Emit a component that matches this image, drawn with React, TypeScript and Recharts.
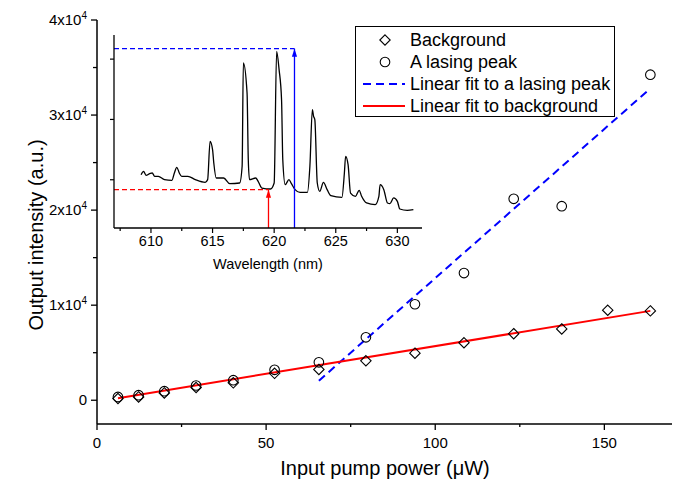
import React from "react";
import { ComposedChart, LineChart, Line, Scatter, XAxis, YAxis, Legend } from "recharts";

// main plot: pump power (uW) vs output intensity (a.u.)
const power = [6.2, 12.3, 19.9, 29.3, 40.3, 52.5, 65.6, 79.5, 94, 108.5, 123.2, 137.4, 151, 163.6];
const background = [180, 350, 770, 1340, 1830, 2830, 3240, 4150, 4950, 6050, 7000, 7500, 9470, 9400];
const lasingPeak = [350, 530, 950, 1550, 2110, 3200, 3990, 6620, 10100, 13380, 21190, 20410, null, 34250];

const bgFitX = [6.2, 163.6];
const bgFitY = [220, 9400];
const peakFitX = [65.6, 163.6];
const peakFitY = [2050, 32800];

const xTicks = [0, 25, 50, 75, 100, 125, 150];
const xLabeled = [0, 50, 100, 150];
const yTicks = [0, 5000, 10000, 15000, 20000, 25000, 30000, 35000, 40000];

const legendNames = ["Background", "A lasing peak", "Linear fit to a lasing peak", "Linear fit to background"];

// inset: emission spectrum
const wavelength = [
  609.2, 609.4, 609.6, 609.9, 610.1, 610.3, 610.6, 611.1, 611.7, 611.9, 612.1, 612.3, 612.5, 613.0, 613.6,
  614.4, 614.6, 614.8, 615.0, 615.1, 615.3, 615.9, 616.4, 617.2, 617.4, 617.5, 617.8, 617.9, 618.0, 618.5,
  618.7, 619.0, 619.7, 620.0, 620.2, 620.4, 620.6, 620.7, 620.9, 621.2, 621.4, 621.7, 622.1, 622.7, 622.9,
  623.1, 623.2, 623.3, 623.5, 623.7, 624.0, 624.3, 624.6, 625.5, 625.7, 625.8, 626.0, 626.2, 626.6, 626.9,
  627.1, 627.5, 628.2, 628.5, 628.6, 628.9, 629.2, 629.4, 629.7, 630.0, 630.2, 630.8, 631.3,
];
const counts = [
  884, 940, 873, 901, 912, 857, 857, 802, 790, 912, 1006, 912, 857, 857, 802,
  757, 802, 1437, 1299, 1078, 829, 829, 735, 746, 1023, 2736, 2239, 1133, 802, 829,
  774, 663, 647, 746, 2930, 2626, 2128, 1133, 719, 802, 735, 636, 591, 591, 1023,
  1962, 1852, 1797, 746, 608, 757, 636, 536, 509, 912, 1188, 1050, 580, 525, 625,
  525, 415, 387, 525, 719, 636, 415, 404, 498, 442, 315, 293, 304,
];
const insetXTicks = [607.5, 610, 612.5, 615, 617.5, 620, 622.5, 625, 627.5, 630];
const insetXLabeled = [610, 615, 620, 625, 630];
const insetYTicks = [800, 1800, 2800];
const bgMarkX = 619.54;
const bgMarkY = 636;
const peakMarkX = 621.65;
const peakMarkY = 2974;

const FONT = "'Liberation Sans', Arial, sans-serif";
const BLUE = "#0000ff";
const RED = "#ff0000";

const pts = (xs: number[], ys: (number | null)[]) =>
  xs.map((x, i) => ({ x, y: ys[i] })).filter((d) => d.y !== null);

const bgData = pts(power, background);
const peakData = pts(power, lasingPeak);
const bgFit = pts(bgFitX, bgFitY);
const peakFit = pts(peakFitX, peakFitY);
const spectrum = pts(wavelength, counts);

const Diamond = (p: any) => (
  <path
    d={`M${p.cx},${p.cy - 5.2}L${p.cx + 5.2},${p.cy}L${p.cx},${p.cy + 5.2}L${p.cx - 5.2},${p.cy}Z`}
    fill="none"
    stroke="#000"
    strokeWidth={1.1}
  />
);
const Ring = (p: any) => <circle cx={p.cx} cy={p.cy} r={4.8} fill="none" stroke="#000" strokeWidth={1.1} />;

const BottomTick = ({ x, y, payload }: any) => {
  const major = xLabeled.includes(payload.value);
  return (
    <g>
      <line x1={x} x2={x} y1={y} y2={y + (major ? 6 : 3)} stroke="#000" strokeWidth={1.3} />
      {major && (
        <text x={x} y={y + 24} textAnchor="middle" fontSize={15} fontFamily={FONT} fill="#000">
          {payload.value}
        </text>
      )}
    </g>
  );
};
const TopTick = ({ x, y, payload }: any) => {
  const major = xLabeled.includes(payload.value);
  return <line x1={x} x2={x} y1={y} y2={y + (major ? 5 : 3)} stroke="#000" strokeWidth={1.3} />;
};
const LeftTick = ({ x, y, payload }: any) => {
  const v = payload.value;
  const major = v % 10000 === 0;
  return (
    <g>
      <line x1={x} x2={x - (major ? 6 : 4)} y1={y} y2={y} stroke="#000" strokeWidth={1.3} />
      {major && (
        <text x={x - 10} y={y + 5} textAnchor="end" fontSize={15} fontFamily={FONT} fill="#000">
          {v === 0 ? "0" : `${v / 10000}x10`}
          {v !== 0 && (
            <tspan dy={-6} fontSize={10}>
              4
            </tspan>
          )}
        </text>
      )}
    </g>
  );
};
const RightTick = ({ x, y }: any) => <line x1={x} x2={x - 4} y1={y} y2={y} stroke="#000" strokeWidth={1.3} />;

const InsetXTick = ({ x, y, payload }: any) => {
  const major = insetXLabeled.includes(payload.value);
  return (
    <g>
      <line x1={x} x2={x} y1={y} y2={y + (major ? 5 : 3)} stroke="#000" strokeWidth={1.2} />
      {major && (
        <text x={x} y={y + 18} textAnchor="middle" fontSize={14.5} fontFamily={FONT} fill="#000">
          {payload.value}
        </text>
      )}
    </g>
  );
};
const InsetYTick = ({ x, y }: any) => <line x1={x} x2={x - 4} y1={y} y2={y} stroke="#000" strokeWidth={1.2} />;

const arrowDot = (color: string) => (p: any) =>
  p.index === 1 ? (
    <path key={p.index} d={`M${p.cx},${p.cy}l-2.6,8l5.2,0z`} fill={color} />
  ) : (
    <g key={p.index} />
  );

const legendIcon = (i: number) => {
  if (i === 0) return <Diamond cx={29} cy={11} />;
  if (i === 1) return <Ring cx={29} cy={11} />;
  if (i === 2) return <line x1={7} x2={49} y1={11} y2={11} stroke={BLUE} strokeWidth={2} strokeDasharray="8 5" />;
  return <line x1={7} x2={49} y1={11} y2={11} stroke={RED} strokeWidth={2} />;
};

const renderLegend = () => (
  <div
    style={{
      width: 258,
      height: 87,
      paddingTop: 2,
      border: "1px solid #000",
      background: "#fff",
      fontFamily: FONT,
      fontSize: 18,
      lineHeight: "22px",
      color: "#000",
    }}
  >
    {legendNames.map((name, i) => (
      <div key={name} style={{ display: "flex", alignItems: "center", height: 22 }}>
        <svg width={54} height={22} style={{ flex: "none" }}>
          {legendIcon(i)}
        </svg>
        <span style={{ whiteSpace: "nowrap" }}>{name}</span>
      </div>
    ))}
  </div>
);

export default function App() {
  return (
    <div
      style={{
        position: "absolute",
        left: 0,
        top: 0,
        width: 678,
        height: 487,
        background: "#fff",
        fontFamily: FONT,
        color: "#000",
      }}
    >
      <ComposedChart width={678} height={487} margin={{ top: 20, right: 6, bottom: 5, left: 0 }}>
        <XAxis
          type="number"
          dataKey="x"
          domain={[0, 170]}
          ticks={xTicks}
          interval={0}
          height={58}
          tickSize={0}
          tickMargin={0}
          tickLine={false}
          tick={BottomTick}
          axisLine={{ stroke: "#000", strokeWidth: 1.5 }}
        />
        <XAxis
          xAxisId="top"
          orientation="top"
          type="number"
          dataKey="x"
          domain={[0, 170]}
          ticks={xTicks}
          interval={0}
          height={0}
          tickSize={0}
          tickMargin={0}
          tickLine={false}
          tick={TopTick}
          axisLine={{ stroke: "#000", strokeWidth: 1.5 }}
        />
        <YAxis
          type="number"
          dataKey="y"
          domain={[-2500, 40000]}
          ticks={yTicks}
          interval={0}
          width={97}
          tickSize={0}
          tickMargin={0}
          tickLine={false}
          tick={LeftTick}
          axisLine={{ stroke: "#000", strokeWidth: 1.5 }}
        />
        <YAxis
          yAxisId="right"
          orientation="right"
          type="number"
          dataKey="y"
          domain={[-2500, 40000]}
          ticks={yTicks}
          interval={0}
          width={0}
          tickSize={0}
          tickMargin={0}
          tickLine={false}
          tick={RightTick}
          axisLine={{ stroke: "#000", strokeWidth: 1.5 }}
        />
        <Scatter data={bgData} dataKey="y" shape={Diamond} isAnimationActive={false} />
        <Scatter data={peakData} dataKey="y" shape={Ring} isAnimationActive={false} />
        <Line
          data={peakFit}
          dataKey="y"
          stroke={BLUE}
          strokeWidth={2}
          strokeDasharray="8 5"
          dot={false}
          isAnimationActive={false}
        />
        <Line data={bgFit} dataKey="y" stroke={RED} strokeWidth={2} dot={false} isAnimationActive={false} />
        <Legend
          layout="horizontal"
          align="center"
          verticalAlign="middle"
          content={renderLegend}
          wrapperStyle={{ left: 355, top: 26, width: 260, height: 91 }}
        />
      </ComposedChart>

      <div style={{ position: "absolute", left: 100, top: 15 }}>
        <LineChart width={330} height={270} margin={{ top: 20, right: 8, bottom: 0, left: 0 }}>
          <XAxis
            type="number"
            dataKey="x"
            domain={[607, 632]}
            ticks={insetXTicks}
            interval={0}
            height={57}
            tickSize={0}
            tickMargin={0}
            tickLine={false}
            tick={InsetXTick}
            axisLine={{ stroke: "#000", strokeWidth: 1.3 }}
          />
          <YAxis
            type="number"
            dataKey="y"
            domain={[0, 3200]}
            ticks={insetYTicks}
            interval={0}
            width={14}
            tickSize={0}
            tickMargin={0}
            tickLine={false}
            tick={InsetYTick}
            axisLine={{ stroke: "#000", strokeWidth: 1.3 }}
          />
          <Line
            data={spectrum}
            dataKey="y"
            type="monotone"
            stroke="#000"
            strokeWidth={1.3}
            dot={false}
            isAnimationActive={false}
          />
          <Line
            data={pts([607, bgMarkX], [bgMarkY, bgMarkY])}
            dataKey="y"
            stroke={RED}
            strokeWidth={1.3}
            strokeDasharray="5 3"
            dot={false}
            isAnimationActive={false}
          />
          <Line
            data={pts([bgMarkX, bgMarkX], [0, bgMarkY])}
            dataKey="y"
            stroke={RED}
            strokeWidth={1.3}
            dot={arrowDot(RED)}
            isAnimationActive={false}
          />
          <Line
            data={pts([607, peakMarkX], [peakMarkY, peakMarkY])}
            dataKey="y"
            stroke={BLUE}
            strokeWidth={1.3}
            strokeDasharray="5 3"
            dot={false}
            isAnimationActive={false}
          />
          <Line
            data={pts([peakMarkX, peakMarkX], [0, peakMarkY])}
            dataKey="y"
            stroke={BLUE}
            strokeWidth={1.3}
            dot={arrowDot(BLUE)}
            isAnimationActive={false}
          />
        </LineChart>
      </div>

      <div
        style={{
          position: "absolute",
          left: 268,
          top: 264,
          transform: "translate(-50%, -50%)",
          fontSize: 14.5,
          whiteSpace: "nowrap",
        }}
      >
        Wavelength (nm)
      </div>
      <div
        style={{
          position: "absolute",
          left: 385,
          top: 468,
          transform: "translate(-50%, -50%)",
          fontSize: 20,
          whiteSpace: "nowrap",
        }}
      >
        Input pump power (μW)
      </div>
      <div
        style={{
          position: "absolute",
          left: 36,
          top: 235,
          transform: "translate(-50%, -50%) rotate(-90deg)",
          fontSize: 20,
          whiteSpace: "nowrap",
        }}
      >
        Output intensity (a.u.)
      </div>
    </div>
  );
}
